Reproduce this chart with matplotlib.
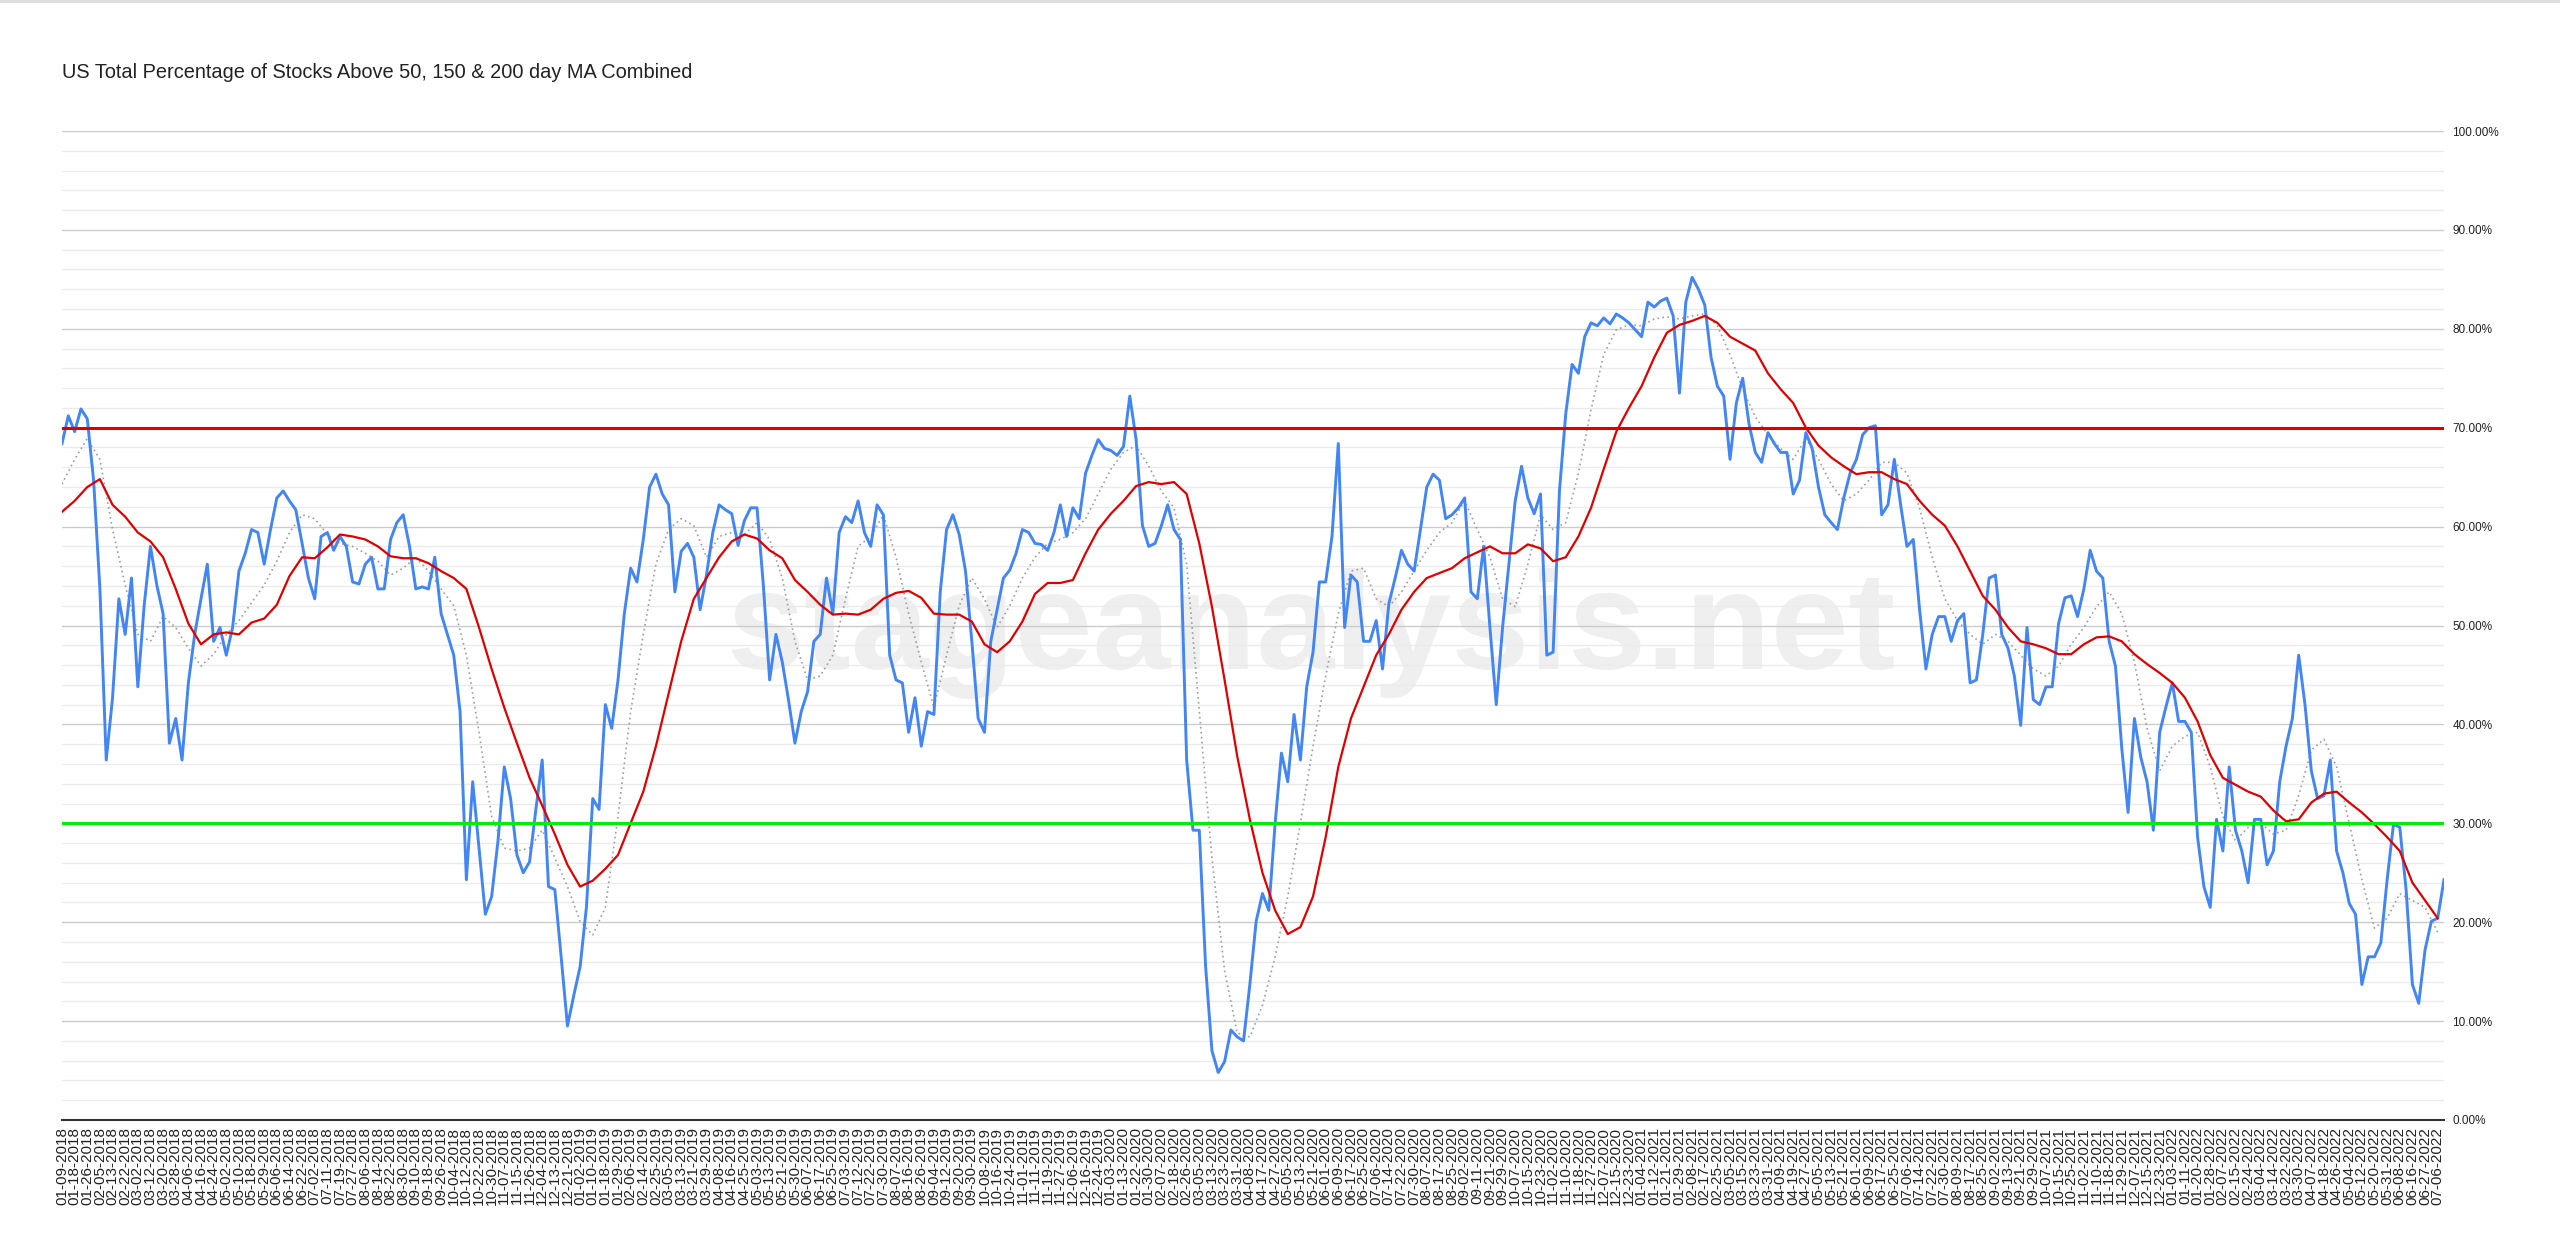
import matplotlib
matplotlib.use("Agg")
import matplotlib.pyplot as plt
from matplotlib.ticker import FixedLocator, MultipleLocator, FuncFormatter

plt.rcParams['font.family'] = ['Liberation Sans', 'DejaVu Sans']

title = "US Total Percentage of Stocks Above 50, 150 & 200 day MA Combined"

# tick dates (every 6th trading day), grouped by year
dates_2018 = ["01-09", "01-18", "01-26", "02-05", "02-13", "02-22", "03-02", "03-12", "03-20", "03-28",
              "04-06", "04-16", "04-24", "05-02", "05-10", "05-18", "05-29", "06-06", "06-14", "06-22",
              "07-02", "07-11", "07-19", "07-27", "08-06", "08-14", "08-22", "08-30", "09-10", "09-18",
              "09-26", "10-04", "10-12", "10-22", "10-30", "11-07", "11-15", "11-26", "12-04", "12-13",
              "12-21"]
dates_2019 = ["01-02", "01-10", "01-18", "01-29", "02-06", "02-14", "02-25", "03-05", "03-13", "03-21",
              "03-29", "04-08", "04-16", "04-25", "05-03", "05-13", "05-21", "05-30", "06-07", "06-17",
              "06-25", "07-03", "07-12", "07-22", "07-30", "08-07", "08-16", "08-26", "09-04", "09-12",
              "09-20", "09-30", "10-08", "10-16", "10-24", "11-01", "11-11", "11-19", "11-27", "12-06",
              "12-16", "12-24"]
dates_2020 = ["01-03", "01-13", "01-22", "01-30", "02-07", "02-18", "02-26", "03-05", "03-13", "03-23",
              "03-31", "04-08", "04-17", "04-27", "05-05", "05-13", "05-21", "06-01", "06-09", "06-17",
              "06-25", "07-06", "07-14", "07-22", "07-30", "08-07", "08-17", "08-25", "09-02", "09-11",
              "09-21", "09-29", "10-07", "10-15", "10-23", "11-02", "11-10", "11-18", "11-27", "12-07",
              "12-15", "12-23"]
dates_2021 = ["01-04", "01-12", "01-21", "01-29", "02-08", "02-17", "02-25", "03-05", "03-15", "03-23",
              "03-31", "04-09", "04-19", "04-27", "05-05", "05-13", "05-21", "06-01", "06-09", "06-17",
              "06-25", "07-06", "07-14", "07-22", "07-30", "08-09", "08-17", "08-25", "09-02", "09-13",
              "09-21", "09-29", "10-07", "10-15", "10-25", "11-02", "11-10", "11-18", "11-29", "12-07",
              "12-15", "12-23"]
dates_2022 = ["01-03", "01-11", "01-20", "01-28", "02-07", "02-15", "02-24", "03-04", "03-14", "03-22",
              "03-30", "04-07", "04-18", "04-26", "05-04", "05-12", "05-20", "05-31", "06-08", "06-16",
              "06-27", "07-06"]

tick_labels = ([d + "-2018" for d in dates_2018] + [d + "-2019" for d in dates_2019] +
               [d + "-2020" for d in dates_2020] + [d + "-2021" for d in dates_2021] +
               [d + "-2022" for d in dates_2022])

# % of stocks above MAs, sampled every 3 trading days
pct_combined = [
    68.4, 71.2, 69.6, 71.9, 70.9, 64.7, 53.7, 36.4, 42.7, 52.7,
    49.1, 54.8, 43.8, 52.0, 58.0, 54.1, 51.2, 38.1, 40.6, 36.4,
    44.2, 49.1, 52.7, 56.2, 48.4, 49.8, 47.0, 49.8, 55.5, 57.3,
    59.7, 59.4, 56.2, 59.7, 62.9, 63.6, 62.6, 61.7, 58.3, 54.8,
    52.7, 59.0, 59.4, 57.6, 59.0, 58.0, 54.4, 54.2, 56.2, 56.9,
    53.7, 53.7, 58.7, 60.4, 61.2, 58.0, 53.7, 53.9, 53.7, 56.9,
    51.2, 49.1, 47.0, 41.3, 24.3, 34.2, 27.5, 20.8, 22.6, 28.2,
    35.7, 32.5, 26.8, 25.0, 26.1, 31.4, 36.4, 23.6, 23.3, 16.5,
    9.5, 12.6, 15.5, 21.5, 32.5, 31.4, 42.0, 39.6, 44.5, 51.2,
    55.8, 54.4, 58.7, 64.0, 65.3, 63.3, 62.2, 53.4, 57.5, 58.3,
    56.9, 51.6, 55.1, 59.4, 62.2, 61.7, 61.3, 58.1, 60.6, 61.9,
    61.9, 54.1, 44.5, 49.1, 46.3, 42.4, 38.1, 41.3, 43.3, 48.4,
    49.1, 54.8, 51.2, 59.4, 61.0, 60.4, 62.6, 59.4, 58.0, 62.2,
    61.2, 47.0, 44.5, 44.2, 39.2, 42.7, 37.8, 41.3, 41.0, 53.4,
    59.7, 61.2, 59.2, 55.5, 48.4, 40.6, 39.2, 48.4, 51.6, 54.8,
    55.6, 57.3, 59.7, 59.4, 58.3, 58.2, 57.6, 59.4, 62.2, 59.0,
    61.9, 60.8, 65.4, 67.2, 68.8, 67.9, 67.7, 67.2, 68.1, 73.2,
    68.8, 60.1, 58.0, 58.3, 60.1, 62.2, 59.7, 58.7, 36.4, 29.3,
    29.3, 15.5, 7.0, 4.8, 5.9, 9.1, 8.4, 8.0, 13.7, 20.1,
    22.9, 21.2, 30.0, 37.1, 34.2, 41.0, 36.4, 43.8, 47.3, 54.4,
    54.4, 59.0, 68.4, 49.8, 55.1, 54.4, 48.4, 48.4, 50.5, 45.6,
    52.2, 54.8, 57.6, 56.2, 55.5, 59.7, 64.0, 65.3, 64.7, 60.8,
    61.2, 61.9, 62.9, 53.4, 52.7, 58.0, 49.8, 42.0, 49.8, 56.2,
    62.6, 66.1, 62.9, 61.3, 63.3, 47.0, 47.3, 63.6, 71.4, 76.4,
    75.5, 79.2, 80.6, 80.3, 81.1, 80.5, 81.5, 81.1, 80.6, 79.9,
    79.2, 82.7, 82.2, 82.8, 83.1, 81.3, 73.5, 82.7, 85.2, 84.0,
    82.4, 77.1, 74.2, 73.2, 66.8, 72.5, 75.0, 70.4, 67.5, 66.5,
    69.5, 68.4, 67.5, 67.5, 63.3, 64.7, 69.5, 67.9, 64.0, 61.2,
    60.4, 59.7, 62.9, 65.4, 66.8, 69.3, 70.0, 70.2, 61.2, 62.2,
    66.8, 62.2, 58.0, 58.7, 51.6, 45.6, 49.1, 50.9, 50.9, 48.4,
    50.5, 51.2, 44.2, 44.5, 49.1, 54.8, 55.1, 49.1, 47.7, 44.9,
    39.9, 49.8, 42.5, 42.0, 43.8, 43.8, 50.2, 52.8, 53.0, 50.9,
    53.7, 57.6, 55.5, 54.8, 48.4, 45.9, 37.6, 31.1, 40.6, 36.7,
    34.2, 29.3, 39.2, 41.8, 44.2, 40.3, 40.3, 39.2, 28.6, 23.6,
    21.5, 30.4, 27.2, 35.7, 29.3, 27.2, 24.0, 30.4, 30.4, 25.8,
    27.2, 34.2, 37.8, 40.6, 47.0, 42.0, 35.3, 32.5, 32.8, 36.4,
    27.2, 25.0, 21.9, 20.8, 13.7, 16.5, 16.5, 17.9, 24.3, 29.9,
    29.6, 23.3, 13.7, 11.8, 17.2, 20.1, 20.4, 24.3,
]

# short moving average (grey dotted), one value per tick date
ma_short = [
    64.3, 66.8, 68.9, 66.8, 59.7, 54.1, 49.1, 48.4, 50.9, 49.8,
    47.7, 45.9, 47.1, 49.1, 50.5, 52.3, 54.1, 56.5, 59.4, 61.2,
    60.8, 59.2, 58.3, 58.0, 57.3, 56.5, 55.1, 55.8, 56.9, 55.5,
    53.7, 52.0, 47.0, 39.2, 30.7, 27.5, 27.2, 27.5, 29.3, 26.5,
    23.6, 20.1, 18.7, 21.5, 30.7, 41.3, 49.1, 56.2, 59.7, 60.8,
    60.1, 56.9, 59.0, 59.4, 59.2, 60.4, 58.7, 54.8, 48.4, 44.5,
    44.9, 47.0, 52.7, 58.0, 59.0, 61.2, 56.9, 51.2, 46.3, 41.7,
    47.0, 52.0, 54.8, 52.7, 49.8, 52.0, 54.8, 56.9, 58.3, 58.7,
    59.4, 60.8, 63.3, 65.8, 67.5, 68.2, 66.1, 63.6, 61.9, 56.2,
    41.3, 26.5, 15.1, 8.8, 8.4, 11.6, 16.5, 22.6, 30.0, 37.8,
    44.9, 51.2, 55.5, 55.8, 52.7, 51.9, 53.4, 55.5, 57.6, 59.4,
    60.4, 62.6, 59.7, 56.9, 52.7, 51.9, 56.2, 61.2, 59.7, 60.4,
    65.4, 71.8, 77.4, 79.9, 80.4, 80.3, 81.0, 81.2, 81.0, 81.3,
    81.5, 80.3, 77.4, 73.9, 71.1, 69.3, 67.9, 66.8, 68.9, 66.8,
    64.3, 62.6, 63.3, 64.7, 66.5, 66.5, 65.4, 61.9, 56.9, 52.7,
    50.5, 49.1, 48.1, 49.1, 48.4, 47.0, 45.6, 44.9, 45.9, 48.1,
    49.8, 51.9, 53.4, 51.2, 46.3, 39.6, 35.3, 37.8, 38.8, 39.2,
    35.7, 30.7, 28.2, 29.6, 30.0, 28.9, 29.3, 32.8, 37.4, 38.5,
    35.7, 30.0, 24.3, 19.4, 20.4, 22.9, 22.2, 21.5, 19.0,
]

# long moving average (red), one value per tick date
ma_long = [
    61.5, 62.6, 64.0, 64.8, 62.2, 61.0, 59.4, 58.5, 56.9, 53.7,
    50.2, 48.1, 49.1, 49.3, 49.1, 50.3, 50.7, 52.1, 55.0, 56.9,
    56.8, 57.9, 59.2, 59.0, 58.7, 58.0, 57.0, 56.8, 56.8, 56.3,
    55.5, 54.8, 53.7, 49.8, 45.6, 41.7, 38.1, 34.6, 31.8, 28.9,
    25.8, 23.6, 24.2, 25.4, 26.8, 30.0, 33.2, 37.8, 43.1, 48.4,
    52.7, 54.8, 56.9, 58.5, 59.2, 58.8, 57.6, 56.8, 54.6, 53.4,
    52.1, 51.1, 51.2, 51.1, 51.6, 52.7, 53.3, 53.5, 52.8, 51.2,
    51.1, 51.1, 50.4, 48.1, 47.3, 48.4, 50.4, 53.2, 54.3, 54.3,
    54.6, 57.3, 59.7, 61.3, 62.6, 64.1, 64.5, 64.3, 64.5, 63.3,
    58.3, 51.9, 44.5, 36.8, 30.4, 25.0, 21.2, 18.8, 19.5, 22.6,
    28.6, 35.7, 40.6, 43.8, 47.0, 49.1, 51.6, 53.4, 54.8, 55.3,
    55.8, 56.8, 57.4, 58.0, 57.3, 57.3, 58.2, 57.8, 56.5, 56.9,
    59.0, 61.9, 65.8, 69.6, 72.0, 74.2, 77.1, 79.6, 80.4, 80.8,
    81.3, 80.6, 79.2, 78.5, 77.8, 75.5, 73.9, 72.5, 70.0, 68.2,
    67.0, 66.1, 65.3, 65.5, 65.5, 64.8, 64.3, 62.6, 61.2, 60.1,
    58.0, 55.5, 53.0, 51.6, 49.8, 48.4, 48.1, 47.7, 47.1, 47.1,
    48.1, 48.8, 48.9, 48.4, 47.1, 46.1, 45.2, 44.2, 42.7, 40.3,
    36.9, 34.6, 33.9, 33.2, 32.7, 31.3, 30.2, 30.4, 32.1, 33.0,
    33.2, 32.1, 31.1, 29.9, 28.6, 27.2, 24.0, 22.2, 20.4,
]

upper_level = 70
lower_level = 30

fig = plt.figure(figsize=(25.6, 12.5), dpi=100)
ax = fig.add_axes([62 / 2560, 1 - 1120 / 1250, (2444 - 62) / 2560, (1120 - 131) / 1250])

x_raw = [3 * i for i in range(len(pct_combined))]
x_tick = [6 * i for i in range(len(tick_labels))]

# watermark sits behind the axes (axes background is transparent)
fig.text(0.512, 1 - 669 / 1250, "stageanalysis.net", fontsize=101, fontweight='bold',
         color='#efefef', ha='center', va='baseline', zorder=-5)
ax.set_facecolor('none')

ax.plot(x_tick, ma_short, color='#9e9e9e', lw=1.2, ls=(0, (1, 2)), zorder=3)
ax.plot(x_raw, pct_combined, color='#4285f4', lw=2.1, zorder=4, solid_joinstyle='round')
ax.plot(x_tick, ma_long, color='#e00000', lw=1.6, zorder=5)
ax.axhline(upper_level, color='#dd0000', lw=2.2, zorder=6)
ax.axhline(lower_level, color='#00ee00', lw=2.2, zorder=6)

ax.set_xlim(0, x_raw[-1])
ax.set_ylim(0, 100)

ax.yaxis.tick_right()
ax.yaxis.set_major_locator(MultipleLocator(10))
ax.yaxis.set_minor_locator(MultipleLocator(2))
ax.yaxis.set_major_formatter(FuncFormatter(lambda v, p: "%.2f%%" % v))
ax.grid(axis='y', which='major', color='#cccccc', lw=1.0, zorder=1)
ax.grid(axis='y', which='minor', color='#ebebeb', lw=1.0, zorder=1)
ax.tick_params(axis='y', which='both', length=0, pad=6, labelsize=8.5, labelcolor='#222222')

ax.xaxis.set_major_locator(FixedLocator(x_tick))
ax.set_xticklabels(tick_labels, rotation=90, fontsize=11, color='#222222')
ax.tick_params(axis='x', length=0, pad=5)

for s in ['top', 'left', 'right']:
    ax.spines[s].set_visible(False)
ax.spines['bottom'].set_color('#333333')
ax.spines['bottom'].set_linewidth(1.5)

fig.text(62 / 2560, 1 - 78 / 1250, title, fontsize=14.4, color='#222222', va='baseline')
fig.add_artist(plt.Line2D([0, 1], [0.999, 0.999], color='#dddddd', lw=2))

fig.savefig("out.png", dpi=100)
